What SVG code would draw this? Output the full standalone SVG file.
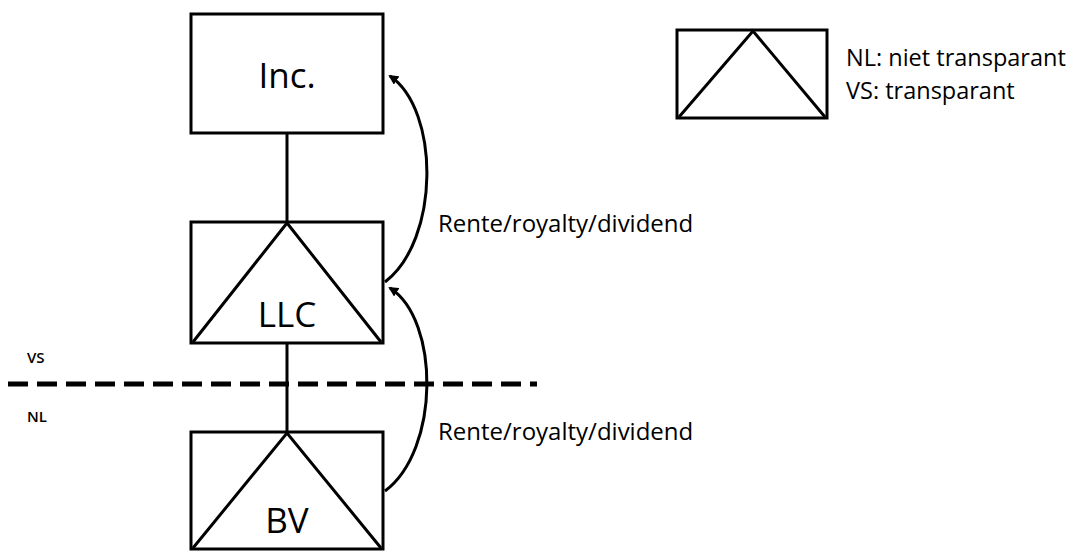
<svg xmlns="http://www.w3.org/2000/svg" width="1077" height="552" viewBox="0 0 1077 552">
  <style>
    .box { fill: #fff; stroke: #000; stroke-width: 3; }
    .tri { fill: none; stroke: #000; stroke-width: 3; stroke-linejoin: miter; }
    .link { fill: none; stroke: #000; stroke-width: 3; }
    .flow { fill: none; stroke: #000; stroke-width: 3; marker-end: url(#head); }
    .name { font-family: "Open Sans", Lato, sans-serif; font-size: 35px; fill: #000; text-anchor: middle; }
    .lbl { font-family: "Open Sans", Lato, sans-serif; font-size: 24px; fill: #000; }
    .key { font-family: "Open Sans", Lato, sans-serif; font-size: 23.5px; fill: #000; }
    .small { font-family: "Open Sans", Lato, sans-serif; font-size: 15px; font-weight: 600; fill: #000; }
  </style>
  <defs>
    <marker id="head" markerWidth="10" markerHeight="10" refX="8" refY="5" orient="auto" markerUnits="userSpaceOnUse">
      <path d="M0,0 L10,5 L0,10 Z" fill="#000"/>
    </marker>
  </defs>
  <rect width="1077" height="552" fill="#fff"/>

  <!-- tree links, border line and payment flows -->
  <g id="connectors">
    <line class="link" x1="287" y1="133" x2="287" y2="222"/>
    <line class="link" x1="287" y1="343" x2="287" y2="432"/>
    <line x1="8" y1="384" x2="537" y2="384" stroke="#000" stroke-width="5" stroke-dasharray="20 9"/>
    <path class="flow" d="M385,282 C440,240 440,110 390,76"/>
    <path class="flow" d="M385,491 C440,450 440,320 390,288"/>
  </g>

  <g id="inc">
    <rect class="box" x="191" y="14" width="192" height="119"/>
    <text class="name" x="287" y="88">Inc.</text>
  </g>

  <g id="llc">
    <rect class="box" x="191" y="222" width="192" height="121"/>
    <polyline class="tri" points="193,342 287,223 381,342"/>
    <text class="name" x="287" y="327">LLC</text>
  </g>

  <g id="bv">
    <rect class="box" x="191" y="432" width="192" height="117"/>
    <polyline class="tri" points="193,548 287,433 381,548"/>
    <text class="name" x="287" y="533">BV</text>
  </g>

  <g id="legend">
    <rect class="box" x="677" y="30" width="150" height="88"/>
    <polyline class="tri" points="679,117 753,31 825,117"/>
    <text class="key" x="846" y="66">NL: niet transparant</text>
    <text class="key" x="846" y="99">VS: transparant</text>
  </g>

  <g id="labels">
    <text class="lbl" x="438" y="232">Rente/royalty/dividend</text>
    <text class="lbl" x="438" y="440">Rente/royalty/dividend</text>
    <text class="small" x="27" y="363">VS</text>
    <text class="small" x="27" y="422">NL</text>
  </g>
</svg>
